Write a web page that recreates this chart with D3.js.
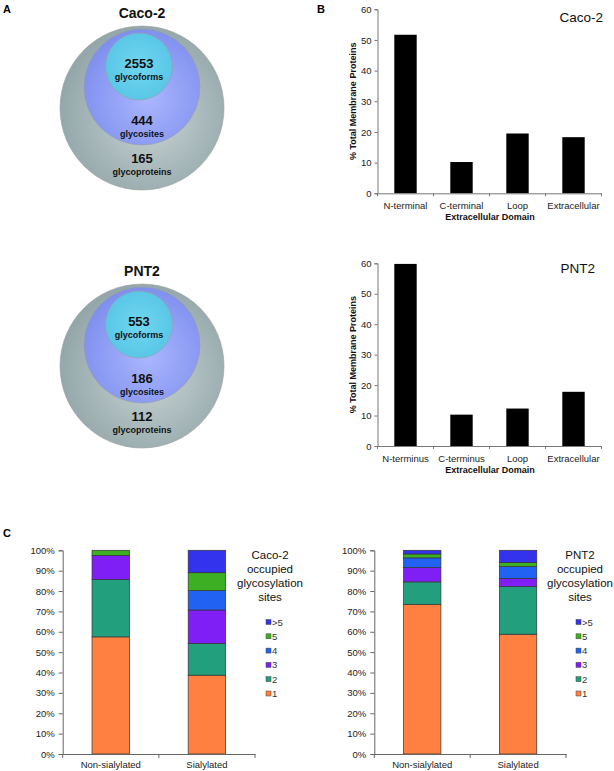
<!DOCTYPE html>
<html><head><meta charset="utf-8">
<script src="https://cdn.jsdelivr.net/npm/d3@7"></script>
<style>
html,body{margin:0;padding:0;background:#fff;}
svg{display:block;font-family:"Liberation Sans",Arial,sans-serif;}
</style></head>
<body>
<svg id="fig" width="614" height="771"></svg>
<script>
// ---------- data ----------
const vennTitles = ["Caco-2", "PNT2"];
const vennLevels = ["glycoproteins", "glycosites", "glycoforms"];
const vennCountsCaco = [165, 444, 2553];
const vennCountsPnt = [112, 186, 553];

const domainTitle = "Extracellular Domain";
const domainYLabel = "% Total Membrane Proteins";
const domainCatsCaco = ["N-terminal", "C-terminal", "Loop", "Extracellular"];
const domainValsCaco = [51.7, 10.2, 19.5, 18.3];
const domainCatsPnt = ["N-terminus", "C-terminus", "Loop", "Extracellular"];
const domainValsPnt = [59.8, 10.3, 12.3, 17.8];
const domainTicks = [0, 10, 20, 30, 40, 50, 60];

const siteKeys = ["1", "2", "3", "4", "5", ">5"];
const siteGroups = ["Non-sialylated", "Sialylated"];
const cacoNonSial = [57.5, 28.2, 11.8, 0, 2.5, 0];
const cacoSial = [38.7, 15.6, 16.4, 9.5, 8.8, 11.0];
const pntNonSial = [73.5, 11.0, 7.0, 4.8, 1.9, 1.8];
const pntSial = [58.8, 23.4, 4.0, 5.8, 2.0, 6.0];
const siteTicks = [0, .1, .2, .3, .4, .5, .6, .7, .8, .9, 1];
const siteColors = ["#FF8040", "#22A07E", "#7F1FF5", "#2262F2", "#3CB022", "#3333EE"];

// ---------- setup ----------
const svg = d3.select("#fig");
const FONT = '"Liberation Sans",Arial,sans-serif';
const defs = svg.append("defs");
function radial(id, c0, c1, cx, cy) {
  const g = defs.append("radialGradient").attr("id", id).attr("cx", cx).attr("cy", cy).attr("r", "0.6");
  g.append("stop").attr("offset", "0%").attr("stop-color", c0);
  g.append("stop").attr("offset", "100%").attr("stop-color", c1);
}
radial("gOuter", "#C9D4D4", "#8FA3A6", "0.55", "0.55");
radial("gMid", "#AAB6FF", "#7F8FEE", "0.55", "0.6");
radial("gInner", "#6FD6F0", "#56C4E6", "0.5", "0.5");

// panel letters
[["A", 3, 13], ["B", 317, 13], ["C", 3, 537]].forEach(([t, x, y]) =>
  svg.append("text").attr("x", x).attr("y", y).attr("font-size", 11).attr("font-weight", "bold").text(t));

// ---------- Panel A: nested circles ----------
function venn(title, counts, cx, cy0) {
  const g = svg.append("g");
  g.append("text").attr("x", cx).attr("y", cy0 + 18).attr("text-anchor", "middle")
    .attr("font-size", 14).attr("font-weight", "bold").attr("fill", "#111").text(title);
  const circ = [
    {dx: 0, dy: 108, r: 82, fill: "url(#gOuter)"},
    {dx: 0, dy: 87, r: 58, fill: "url(#gMid)"},
    {dx: -3, dy: 66.5, r: 33.5, fill: "url(#gInner)"}
  ];
  g.selectAll("circle").data(circ).join("circle")
    .attr("cx", d => cx + d.dx).attr("cy", d => cy0 + d.dy).attr("r", d => d.r)
    .attr("fill", d => d.fill).attr("stroke", "#9aa0a0").attr("stroke-width", 0.6);
  const ys = [[163, 175], [124.5, 136.5], [67.5, 79.5]];
  counts.forEach((c, i) => {
    const x = cx + circ[i].dx;
    g.append("text").attr("x", x).attr("y", cy0 + ys[i][0]).attr("text-anchor", "middle")
      .attr("font-size", 13).attr("font-weight", "bold").attr("fill", "#111").text(c);
    g.append("text").attr("x", x).attr("y", cy0 + ys[i][1]).attr("text-anchor", "middle")
      .attr("font-size", 9).attr("font-weight", "bold").attr("fill", "#111").text(vennLevels[i]);
  });
}
venn(vennTitles[0], vennCountsCaco, 142, 0);
venn(vennTitles[1], vennCountsPnt, 142, 258);

// ---------- Panel B: bar charts ----------
function domainChart(cats, vals, label, yTop, yBot, labelY) {
  const x = d3.scaleBand().domain(cats).range([377.5, 601.5]).paddingInner(0.6).paddingOuter(0.3);
  const y = d3.scaleLinear().domain([0, 60]).range([yBot, yTop]);
  const g = svg.append("g");
  g.selectAll("rect").data(cats).join("rect")
    .attr("x", d => x(d)).attr("width", x.bandwidth())
    .attr("y", (d, i) => y(vals[i])).attr("height", (d, i) => yBot - y(vals[i]))
    .attr("fill", "#000");
  const ya = g.append("g").attr("transform", `translate(377.5,0)`)
    .call(d3.axisLeft(y).tickValues(domainTicks).tickSize(3).tickPadding(3));
  ya.selectAll("text").attr("font-size", 9.5).attr("font-family", FONT).attr("fill", "#222");
  ya.selectAll("line,path").attr("stroke", "#777");
  const xa = g.append("g").attr("transform", `translate(0,${yBot})`)
    .call(d3.axisBottom(x).tickSize(0).tickPadding(9));
  xa.selectAll("text").attr("font-size", 9.5).attr("font-family", FONT).attr("fill", "#222");
  xa.select("path").attr("stroke", "#777");
  const bounds = cats.map(c => x(c) - x.step() * x.paddingInner() / 2).concat([x.range()[1]]);
  bounds[0] = x.range()[0];
  g.selectAll("line.bt").data(bounds).join("line").attr("class", "bt")
    .attr("x1", d => d).attr("x2", d => d).attr("y1", yBot).attr("y2", yBot + 3).attr("stroke", "#777");
  g.append("text").attr("x", 490).attr("y", yBot + 26.5).attr("text-anchor", "middle")
    .attr("font-size", 9).attr("font-weight", "bold").attr("fill", "#111").text(domainTitle);
  g.append("text").attr("transform", `translate(356,${(yTop + yBot) / 2}) rotate(-90)`)
    .attr("text-anchor", "middle").attr("font-size", 9).attr("font-weight", "bold").attr("fill", "#111")
    .text(domainYLabel);
  g.append("text").attr("x", labelY[0]).attr("y", labelY[1]).attr("text-anchor", "end")
    .attr("font-size", 13.5).attr("fill", "#111").text(label);
}
domainChart(domainCatsCaco, domainValsCaco, "Caco-2", 9.3, 193.3, [603, 21.5]);
domainChart(domainCatsPnt, domainValsPnt, "PNT2", 263.3, 446, [595, 273]);

// ---------- Panel C: stacked bars ----------
function sitesChart(rowsVals, title, x0, x1, legendX) {
  const rows = siteGroups.map((grp, gi) => {
    const o = {group: grp};
    siteKeys.forEach((k, ki) => o[k] = rowsVals[gi][ki] / 100);
    return o;
  });
  const series = d3.stack().keys(siteKeys)(rows);
  const x = d3.scaleBand().domain(siteGroups).range([x0, x1]).paddingInner(0.61).paddingOuter(0.305);
  const y = d3.scaleLinear().domain([0, 1]).range([754, 550.3]);
  const g = svg.append("g");
  series.forEach((s, si) => {
    g.selectAll(null).data(s.filter(d => d[1] - d[0] > 0)).join("rect")
      .attr("x", d => x(d.data.group)).attr("width", x.bandwidth())
      .attr("y", d => y(d[1])).attr("height", d => y(d[0]) - y(d[1]))
      .attr("fill", siteColors[si]).attr("stroke", "#333").attr("stroke-width", 0.7);
  });
  const ya = g.append("g").attr("transform", `translate(${x0},0)`)
    .call(d3.axisLeft(y).tickValues(siteTicks).tickFormat(d3.format(".0%")).tickSize(4).tickPadding(4));
  ya.selectAll("text").attr("font-size", 9.5).attr("font-family", FONT).attr("fill", "#222");
  ya.selectAll("line,path").attr("stroke", "#666");
  const xa = g.append("g").attr("transform", `translate(0,754)`)
    .call(d3.axisBottom(x).tickSize(0).tickPadding(7));
  xa.selectAll("text").attr("font-size", 9.5).attr("font-family", FONT).attr("fill", "#222");
  xa.select("path").attr("stroke", "#666");
  const bounds = [x0, (x0 + x1) / 2, x1];
  g.selectAll("line.bt").data(bounds).join("line").attr("class", "bt")
    .attr("x1", d => d).attr("x2", d => d).attr("y1", 754).attr("y2", 758).attr("stroke", "#666");
  // legend
  const lines = [title, "occupied", "glycosylation", "sites"];
  lines.forEach((t, i) => g.append("text").attr("x", legendX).attr("y", 559 + i * 14)
    .attr("text-anchor", "middle").attr("font-size", 11.5).attr("fill", "#111").text(t));
  const legKeys = siteKeys.slice().reverse();
  const lg = g.selectAll("g.leg").data(legKeys).join("g").attr("class", "leg")
    .attr("transform", (d, i) => `translate(${legendX - 4},${622 + i * 14.3})`);
  lg.append("rect").attr("x", 0).attr("y", -2.5).attr("width", 5).attr("height", 5)
    .attr("fill", d => siteColors[siteKeys.indexOf(d)]).attr("stroke", "#444").attr("stroke-width", 0.5);
  lg.append("text").attr("x", 6).attr("y", 3.5).attr("font-size", 9.5).attr("fill", "#333").text(d => d);
}
sitesChart([cacoNonSial, cacoSial], "Caco-2", 62.7, 255, 270);
sitesChart([pntNonSial, pntSial], "PNT2", 374.3, 566, 580);
</script>
</body></html>
